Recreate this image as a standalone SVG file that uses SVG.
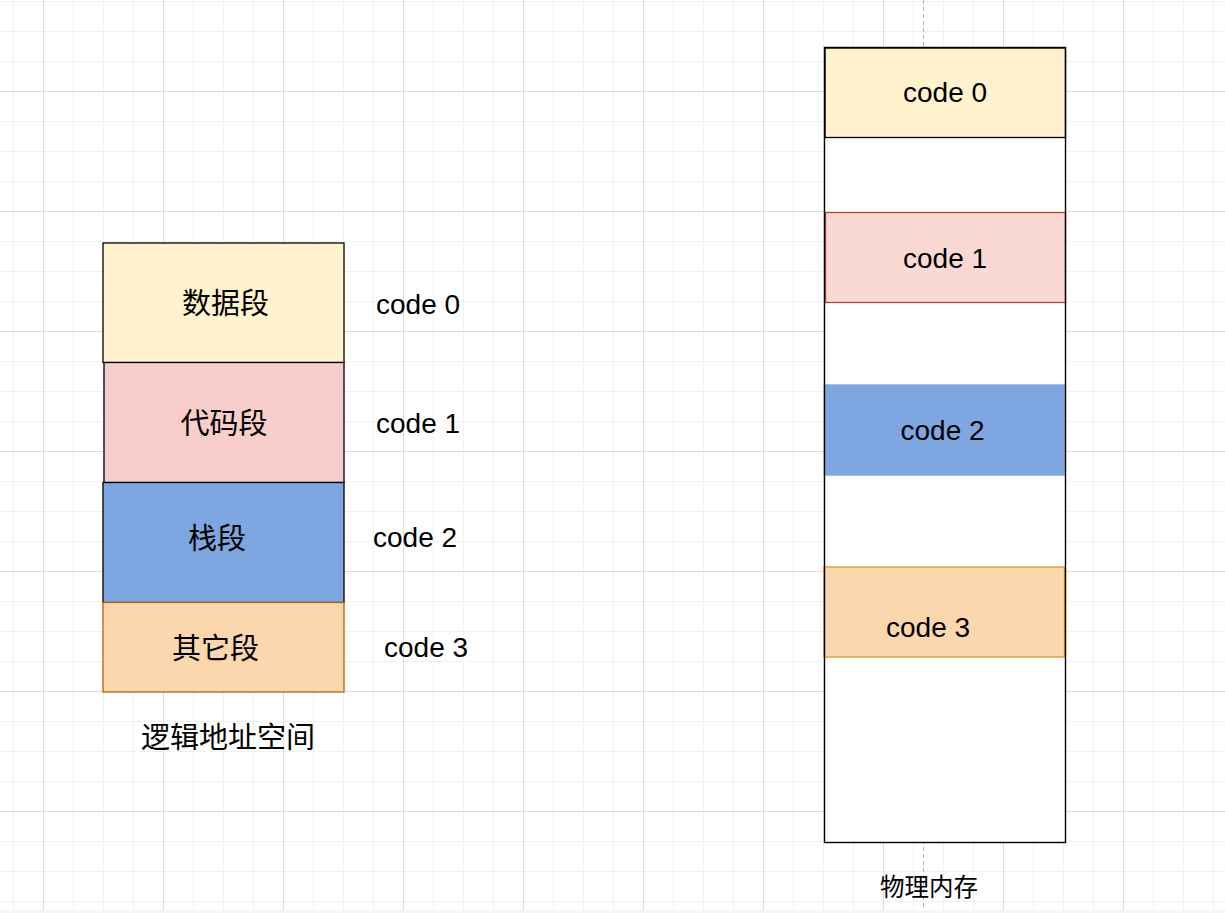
<svg xmlns="http://www.w3.org/2000/svg" width="1225" height="913" viewBox="0 0 1225 913">
  <defs>
    <pattern id="minor" x="13" y="1" width="30" height="30" patternUnits="userSpaceOnUse">
      <path d="M0.5 0V30M0 0.5H30" fill="none" stroke="#f1f1f1" stroke-width="1"/>
    </pattern>
    <pattern id="major" x="43" y="91" width="120" height="120" patternUnits="userSpaceOnUse">
      <path d="M0.5 0V120M0 0.5H120" fill="none" stroke="#dcdcdc" stroke-width="1"/>
    </pattern>
  </defs>
  <style>
    .lat { font-family: "Liberation Sans", Arial, sans-serif; font-size: 28px; fill: #000; }
    .cjk { font-family: "Noto Sans CJK SC", "Noto Sans", sans-serif; font-size: 29px; fill: #000; text-anchor: middle; }
    .blk { stroke: #000; stroke-width: 1.3; }
  </style>
  <g id="background">
    <rect x="0" y="0" width="1225" height="913" fill="#ffffff"/>
    <rect x="0" y="0" width="1225" height="910" fill="url(#minor)"/>
    <rect x="0" y="0" width="1225" height="910" fill="url(#major)"/>
    <rect x="0" y="910" width="1225" height="3" fill="#f5f6f8"/>
    <line x1="923.5" y1="0" x2="923.5" y2="910" stroke="#b4b4b4" stroke-width="1" stroke-dasharray="4 3"/>
  </g>

  <g id="logical-space">
    <g id="seg-data">
      <rect x="103" y="243" width="241" height="119.5" fill="#fff2cc" class="blk"/>
      <text class="cjk" x="225.5" y="313.7">数据段</text>
    </g>
    <g id="seg-code">
      <rect x="104" y="362.5" width="240" height="120" fill="#f8cecc" class="blk"/>
      <text class="cjk" x="224" y="434.3">代码段</text>
    </g>
    <g id="seg-stack">
      <rect x="103" y="482.5" width="241" height="120" fill="#7ea6e0" class="blk"/>
      <text class="cjk" x="217" y="549.3">栈段</text>
    </g>
    <g id="seg-other">
      <rect x="103" y="602.5" width="241" height="89.5" fill="#fad7ac" stroke="#b46504" stroke-width="1.3"/>
      <text class="cjk" x="215.5" y="659.3">其它段</text>
    </g>
    <g id="label-logical">
      <text class="cjk" x="228" y="747.7">逻辑地址空间</text>
    </g>
  </g>

  <g id="logical-codes">
    <text id="lcode0" class="lat" x="376" y="314">code 0</text>
    <text id="lcode1" class="lat" x="376" y="432.7">code 1</text>
    <text id="lcode2" class="lat" x="373" y="546.7">code 2</text>
    <text id="lcode3" class="lat" x="384" y="656.7">code 3</text>
  </g>

  <g id="physical-memory">
    <rect x="824.5" y="47.5" width="241" height="795" fill="#ffffff"/>
    <g id="mem-code0">
      <rect x="825" y="48" width="240.5" height="89.5" fill="#fff2cc" class="blk"/>
      <text class="lat" x="903" y="102.3">code 0</text>
    </g>
    <g id="mem-code1">
      <rect x="825.5" y="212.5" width="240" height="90" fill="#fad9d5" stroke="#ae4132" stroke-width="1.3"/>
      <text class="lat" x="903" y="267.7">code 1</text>
    </g>
    <g id="mem-code2">
      <rect x="824" y="384.5" width="241" height="91" fill="#7ea6e0" stroke="#a9c0e6" stroke-width="1"/>
      <text class="lat" x="900.5" y="440">code 2</text>
    </g>
    <g id="mem-code3">
      <rect x="824" y="567" width="240.5" height="90" fill="#fad7ac" stroke="#d6a020" stroke-width="1.3"/>
      <text class="lat" x="886" y="636.7">code 3</text>
    </g>
    <rect x="824.5" y="47.5" width="241" height="795" fill="none" stroke="#000" stroke-width="1.4"/>
    <text id="label-physical" class="cjk" style="font-size:24.5px" x="929" y="896">物理内存</text>
  </g>
</svg>
